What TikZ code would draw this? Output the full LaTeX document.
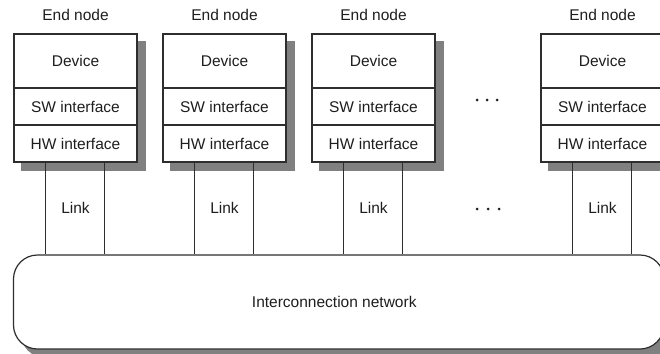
\documentclass[tikz,border=0pt]{standalone}
\usepackage{fontspec}
\setmainfont{Liberation Sans}
\usetikzlibrary{backgrounds}
\definecolor{ln}{HTML}{2E2E2E}
\definecolor{shd}{HTML}{808080}
\definecolor{txt}{HTML}{1E1E1E}
\begin{document}
\begin{tikzpicture}[x=1pt,y=-1pt,
  font=\fontsize{15.5}{18}\selectfont,
  part/.style={draw=ln, line width=1.2pt, fill=white, minimum width=123pt, inner sep=0pt, text=txt},
  devpart/.style={part, minimum height=54pt},
  ifpart/.style={part, minimum height=37pt},
  lbl/.style={text=txt, inner sep=0pt},
  wire/.style={draw=ln, line width=1.2pt},
  shadowfill/.style={fill=shd},
  dot/.style={fill=txt}]
\useasboundingbox (0,0) rectangle (660,353);
\clip (0,0) rectangle (660,353);

% network
\node[draw=ln, line width=1.2pt, fill=white, rounded corners=24pt, minimum width=650.5pt, minimum height=94pt, inner sep=0pt, text=txt] (net) at (338.75,302) {\hspace*{-9pt}Interconnection network};

\foreach \i/\L in {1/14,2/163,3/312,4/541}{
  \node[lbl] (end\i) at (\L+61.5,15) {End node};
  \node[devpart] (dev\i) at (\L+61.5,61) {Device};
  \node[ifpart] (sw\i) at (\L+61.5,106.5) {SW interface};
  \node[ifpart] (hw\i) at (\L+61.5,143.5) {HW interface};
  \node[lbl] (link\i) at (\L+61.5,208) {Link};
  \coordinate (la\i) at ([xshift=32pt]hw\i.south west);
  \coordinate (lb\i) at ([xshift=91pt]hw\i.south west);
  \draw[wire] (la\i) -- (la\i |- net.north);
  \draw[wire] (lb\i) -- (lb\i |- net.north);
}

\begin{scope}[on background layer]
  \foreach \i in {1,2,3,4}{
    \fill[shadowfill] ([shift={(8pt,-8pt)}]dev\i.north west) rectangle ([shift={(8pt,-8pt)}]hw\i.south east);
  }
  \fill[shadowfill, rounded corners=24pt] ([shift={(8pt,-8pt)}]net.north west) rectangle ([shift={(8pt,-8pt)}]net.south east);
\end{scope}

% ellipses
\foreach \x in {477,487,497}{ \fill[dot] (\x,100) circle (1.5pt); }
\foreach \x in {477,488,499}{ \fill[dot] (\x,209) circle (1.5pt); }
\end{tikzpicture}
\end{document}
